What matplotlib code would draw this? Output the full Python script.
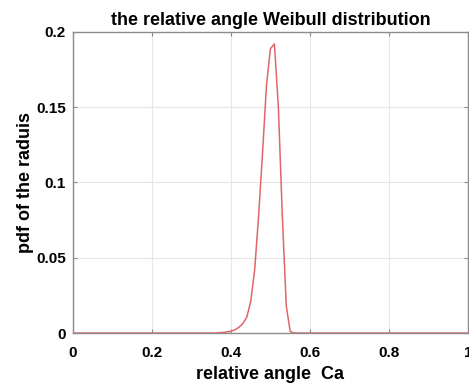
import numpy as np
import matplotlib
matplotlib.use("Agg")
import matplotlib.pyplot as plt

plt.rcParams['font.family'] = ['Liberation Sans', 'DejaVu Sans']

# relative angle samples (step 0.01) and pdf values
x_vals = [round(i * 0.01, 2) for i in range(101)]
pdf_nonzero = {
    0.37: 0.0002, 0.38: 0.0004, 0.39: 0.0007, 0.40: 0.0012, 0.41: 0.0022,
    0.42: 0.0038, 0.43: 0.0063, 0.44: 0.0105, 0.45: 0.021, 0.46: 0.042,
    0.47: 0.078, 0.48: 0.120, 0.49: 0.165, 0.50: 0.189, 0.51: 0.192,
    0.52: 0.150, 0.53: 0.078, 0.54: 0.018, 0.55: 0.001,
}
pdf_vals = [pdf_nonzero.get(v, 0.0) for v in x_vals]

x_ticks = [0, 0.2, 0.4, 0.6, 0.8, 1]
x_tick_labels = ['0', '0.2', '0.4', '0.6', '0.8', '1']
y_ticks = [0, 0.05, 0.1, 0.15, 0.2]
y_tick_labels = ['0', '0.05', '0.1', '0.15', '0.2']

fig = plt.figure(figsize=(4.69, 3.85), dpi=100)
ax = fig.add_axes([0.1557, 0.135, 0.842, 0.782])
ax.plot(x_vals, pdf_vals, color='#e06666', linewidth=1.1)
ax.set_xlim(0, 1)
ax.set_ylim(0, 0.2)
ax.set_xticks(x_ticks)
ax.set_xticklabels(x_tick_labels)
ax.set_yticks(y_ticks)
ax.set_yticklabels(y_tick_labels)
ax.grid(True, color='#e6e6e6', linewidth=0.8)
ax.set_axisbelow(True)
for s in ax.spines.values():
    s.set_color('#8c8c8c')
    s.set_linewidth(1.0)
ax.tick_params(direction='in', length=3, color='#8c8c8c', labelsize=11,
               top=True, right=True)
ax.tick_params(axis='x', pad=9)
ax.tick_params(axis='y', pad=5)
for lab in ax.get_xticklabels() + ax.get_yticklabels():
    lab.set_fontweight('bold')
ax.set_title('the relative angle Weibull distribution', fontsize=13, fontweight='bold', pad=5)
ax.set_xlabel('relative angle  Ca', fontsize=13, fontweight='bold', labelpad=4.5)
ax.set_ylabel('pdf of the raduis', fontsize=13, fontweight='bold', labelpad=2)
fig.savefig('out.png', dpi=100)
